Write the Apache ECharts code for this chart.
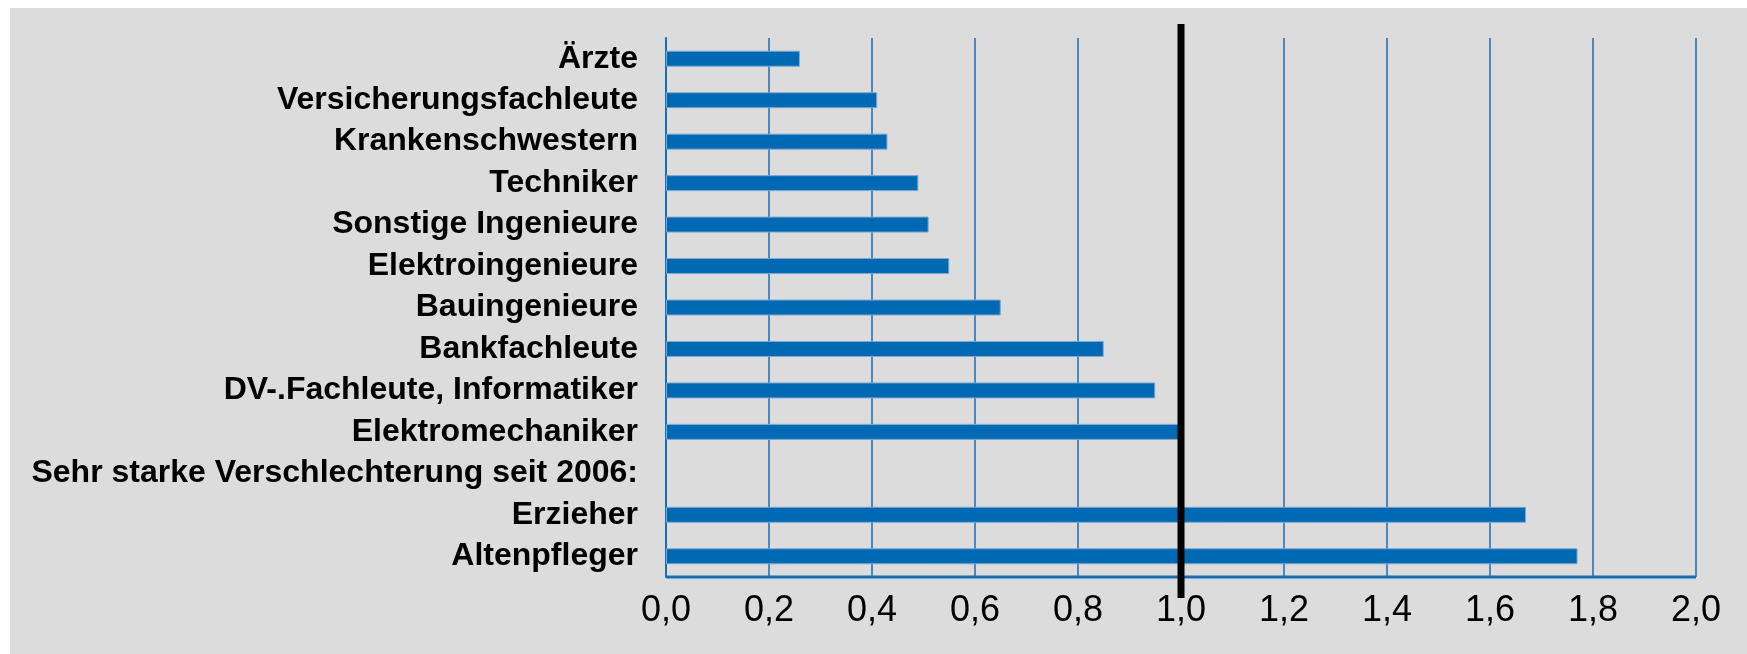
<!DOCTYPE html>
<html>
<head>
<meta charset="utf-8">
<script src="https://cdn.jsdelivr.net/npm/echarts@6/dist/echarts.min.js"></script>
<style>
  html, body { margin: 0; padding: 0; background: #ffffff; }
  #chart { position: absolute; left: 10px; top: 8px; width: 1737px; height: 646px; }
</style>
</head>
<body>
<div id="chart"></div>
<script>
// Berufe, von oben nach unten
const categories = [
  "Ärzte",
  "Versicherungsfachleute",
  "Krankenschwestern",
  "Techniker",
  "Sonstige Ingenieure",
  "Elektroingenieure",
  "Bauingenieure",
  "Bankfachleute",
  "DV-.Fachleute, Informatiker",
  "Elektromechaniker",
  "Sehr starke Verschlechterung seit 2006:",
  "Erzieher",
  "Altenpfleger"
];
const values = [0.26, 0.41, 0.43, 0.49, 0.51, 0.55, 0.65, 0.85, 0.95, 1.0, null, 1.67, 1.77];
const xTicks = [0, 0.2, 0.4, 0.6, 0.8, 1.0, 1.2, 1.4, 1.6, 1.8, 2.0];
const referenceValue = 1.0;

const blue = "#0069b4";

const myChart = echarts.init(document.getElementById("chart"));

const option = {
  backgroundColor: "#dcdcdc",
  animation: false,
  grid: { left: 656, right: 51, top: 30, bottom: 77 },
  xAxis: {
    type: "value",
    min: xTicks[0],
    max: xTicks[xTicks.length - 1],
    interval: 0.2,
    axisLine: { show: false },
    axisTick: { show: false },
    splitLine: { show: true, lineStyle: { color: "#1a6db3", width: 1.5 } },
    axisLabel: {
      margin: 16,
      color: "#000",
      fontFamily: "Liberation Sans, Arial, sans-serif",
      fontSize: 36,
      formatter: v => v.toFixed(1).replace(".", ",")
    }
  },
  yAxis: {
    type: "category",
    data: categories,
    inverse: true,
    axisLine: { show: true, lineStyle: { color: "#1a6db3", width: 2 } },
    axisTick: { show: false },
    axisLabel: {
      interval: 0,
      margin: 28,
      color: "#000",
      fontWeight: "bold",
      fontFamily: "Liberation Sans, Arial, sans-serif",
      fontSize: 32
    }
  },
  series: [{
    type: "bar",
    data: values,
    barWidth: 16,
    itemStyle: { color: blue, borderColor: "#7fa8d2", borderWidth: 1 }
  }]
};

myChart.setOption(option);

// Bezugslinie bei 1,0 und untere Achsenlinie aus den Skalen berechnen
const gridRect = myChart.getModel().getComponent("grid").coordinateSystem.getRect();
const xRef = myChart.convertToPixel({ xAxisIndex: 0 }, referenceValue);
myChart.setOption({
  graphic: [
    {
      type: "line",
      shape: { x1: gridRect.x, y1: gridRect.y + gridRect.height, x2: gridRect.x + gridRect.width, y2: gridRect.y + gridRect.height },
      style: { stroke: "#1a6db3", lineWidth: 3 },
      z: 50
    },
    {
      type: "line",
      shape: { x1: xRef, y1: gridRect.y - 14, x2: xRef, y2: gridRect.y + gridRect.height + 21 },
      style: { stroke: "#000", lineWidth: 7 },
      z: 60
    }
  ]
});
</script>
</body>
</html>
